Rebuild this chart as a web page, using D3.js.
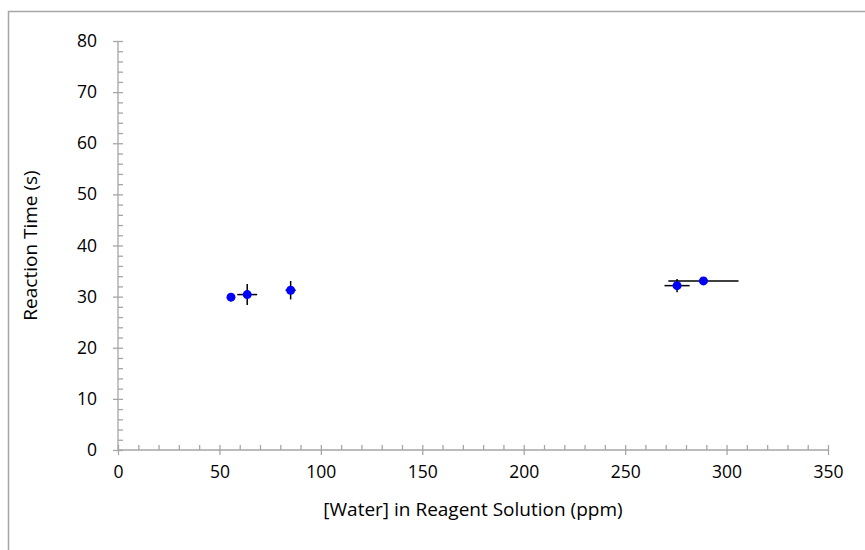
<!DOCTYPE html>
<html lang="en">
<head>
  <meta charset="UTF-8" />
  <title>Reaction Time vs Water</title>
  <script src="https://d3js.org/d3.v7.min.js"></script>
  <style>
    body { margin: 0; background: #fff; }
    svg text { font-family: "Open Sans", Lato, sans-serif; fill: #000; }
    .axis path, .axis line { stroke: #a6a6a6; stroke-width: 1.3; }
    .axis text { font-size: 17.5px; }
  </style>
</head>
<body>
  <div id="chart"></div>
  <script>
    // data
    const waterPpm   = [55.7, 63.7, 85.1, 275.6, 288.6];
    const reactTime  = [29.9, 30.4, 31.25, 32.15, 33.07];
    const waterErr   = [1.0, 4.9, 2.5, 6.2, 17.3];
    const timeErr    = [0.8, 2.05, 1.8, 1.3, 0.6];
    const xTicks = [0, 50, 100, 150, 200, 250, 300, 350];
    const yTicks = [0, 10, 20, 30, 40, 50, 60, 70, 80];

    const width = 865, height = 550;
    const margin = { top: 41, right: 37, bottom: 100, left: 118 };
    const w = width - margin.left - margin.right;
    const h = height - margin.top - margin.bottom;

    const svg = d3.select("#chart").append("svg")
      .attr("width", width).attr("height", height);

    // outer chart frame (only top/left visible)
    svg.append("rect")
      .attr("x", 8.5).attr("y", 11.5)
      .attr("width", 900).attr("height", 600)
      .attr("fill", "none").attr("stroke", "#a6a6a6").attr("stroke-width", 1.5);

    const g = svg.append("g").attr("transform", `translate(${margin.left},${margin.top})`);

    const x = d3.scaleLinear().domain([0, 350]).range([0, w]);
    const y = d3.scaleLinear().domain([0, 80]).range([h, 0]);

    // minor ticks (inside)
    g.append("g").attr("class", "axis")
      .attr("transform", `translate(0,${h})`)
      .call(d3.axisBottom(x).tickValues(d3.range(0, 351, 10)).tickSize(-5).tickSizeOuter(0).tickFormat(""))
      .select(".domain").remove();
    g.append("g").attr("class", "axis")
      .call(d3.axisLeft(y).tickValues(d3.range(0, 81, 2)).tickSize(-5).tickSizeOuter(0).tickFormat(""))
      .select(".domain").remove();

    // major axes
    const xAxis = g.append("g").attr("class", "axis")
      .attr("transform", `translate(0,${h})`)
      .call(d3.axisBottom(x).tickValues(xTicks).tickSize(5).tickSizeOuter(0).tickPadding(11));
    xAxis.select(".domain").attr("d", `M0,0H${w}`);

    const yAxis = g.append("g").attr("class", "axis")
      .call(d3.axisLeft(y).tickValues(yTicks).tickSize(5).tickSizeOuter(0).tickPadding(16));
    yAxis.select(".domain").attr("d", `M0,0V${h}`);

    // axis titles
    svg.append("text")
      .attr("x", margin.left + w / 2).attr("y", 516)
      .attr("text-anchor", "middle").attr("font-size", 19)
      .text("[Water] in Reagent Solution (ppm)");
    svg.append("text")
      .attr("transform", `translate(37,${margin.top + h / 2}) rotate(-90)`)
      .attr("text-anchor", "middle").attr("font-size", 19)
      .text("Reaction Time (s)");

    // error bars
    const pts = waterPpm.map((v, i) => ({ x: v, y: reactTime[i], ex: waterErr[i], ey: timeErr[i] }));
    const eb = g.append("g").attr("stroke", "#000").attr("stroke-width", 1.5);
    eb.selectAll(".ex").data(pts).enter().append("line")
      .attr("x1", d => x(d.x - d.ex)).attr("x2", d => x(d.x + d.ex))
      .attr("y1", d => y(d.y)).attr("y2", d => y(d.y));
    eb.selectAll(".ey").data(pts).enter().append("line")
      .attr("x1", d => x(d.x)).attr("x2", d => x(d.x))
      .attr("y1", d => y(d.y - d.ey)).attr("y2", d => y(d.y + d.ey));

    // markers
    g.selectAll(".pt").data(pts).enter().append("circle")
      .attr("cx", d => x(d.x)).attr("cy", d => y(d.y))
      .attr("r", 4.5).attr("fill", "#0000ff");
  </script>
</body>
</html>
